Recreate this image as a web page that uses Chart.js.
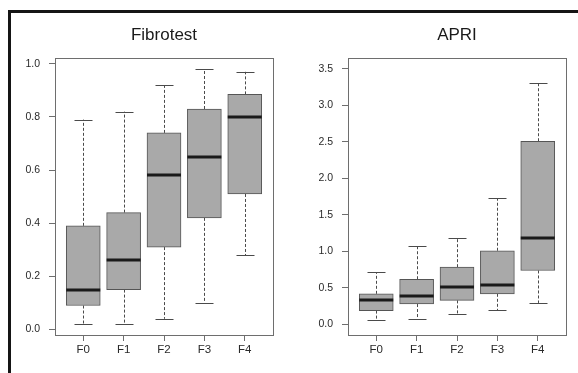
<!DOCTYPE html>
<html>
<head>
<meta charset="utf-8">
<script src="https://cdn.jsdelivr.net/npm/chart.js@4.4.1/dist/chart.umd.min.js"></script>
<style>
  html, body { margin: 0; padding: 0; background: #fff; }
  #wrap { position: relative; width: 578px; height: 373px; overflow: hidden; }
  #frame { position: absolute; left: 8px; top: 10px; width: 580px; height: 380px;
           border-left: 3px solid #151515; border-top: 3px solid #151515; }
  canvas { position: absolute; top: 0; }
  #fibro { left: 0; }
  #apri { left: 289px; }
</style>
</head>
<body>
<div id="wrap">
  <div id="frame"></div>
  <canvas id="fibro" width="289" height="373"></canvas>
  <canvas id="apri" width="289" height="373"></canvas>
</div>
<script>
// stages on the x axis
const categories = ['F0', 'F1', 'F2', 'F3', 'F4'];

// Fibrotest box stats
const fibroLower  = [0.02, 0.02, 0.04, 0.10, 0.28];
const fibroQ1     = [0.09, 0.15, 0.31, 0.42, 0.51];
const fibroMedian = [0.15, 0.26, 0.58, 0.65, 0.80];
const fibroQ3     = [0.39, 0.44, 0.74, 0.83, 0.885];
const fibroUpper  = [0.79, 0.82, 0.92, 0.98, 0.97];
const fibroTicks  = [0.0, 0.2, 0.4, 0.6, 0.8, 1.0];

// APRI box stats
const apriLower  = [0.06, 0.08, 0.145, 0.195, 0.295];
const apriQ1     = [0.19, 0.28, 0.33, 0.42, 0.74];
const apriMedian = [0.33, 0.385, 0.52, 0.545, 1.185];
const apriQ3     = [0.42, 0.62, 0.785, 1.01, 2.51];
const apriUpper  = [0.715, 1.07, 1.19, 1.73, 3.31];
const apriTicks  = [0.0, 0.5, 1.0, 1.5, 2.0, 2.5, 3.0, 3.5];

const FONT = 'Liberation Sans, Arial, Helvetica, sans-serif';

// whiskers, caps, medians and the plot frame, all placed through the chart scales
function boxExtras(lower, median, upper, q1, q3) {
    return {
        id: 'boxExtras',
        beforeDatasetsDraw(chart) {
            const ctx = chart.ctx;
            const xs = chart.scales.x, ys = chart.scales.y;
            ctx.save();
            ctx.strokeStyle = '#4a4a4a';
            ctx.lineWidth = 1;
            categories.forEach((c, i) => {
                const x = Math.round(xs.getPixelForValue(i + 1)) + 0.5;
                const yLo = ys.getPixelForValue(lower[i]);
                const yHi = ys.getPixelForValue(upper[i]);
                ctx.setLineDash([3, 2]);
                ctx.beginPath();
                ctx.moveTo(x, ys.getPixelForValue(q3[i]));
                ctx.lineTo(x, yHi);
                ctx.moveTo(x, ys.getPixelForValue(q1[i]));
                ctx.lineTo(x, yLo);
                ctx.stroke();
                ctx.setLineDash([]);
                ctx.beginPath();
                [yLo, yHi].forEach(y => {
                    const yy = Math.round(y) + 0.5;
                    ctx.moveTo(x - 9, yy);
                    ctx.lineTo(x + 9, yy);
                });
                ctx.stroke();
            });
            ctx.restore();
        },
        afterDatasetsDraw(chart) {
            const ctx = chart.ctx;
            const ys = chart.scales.y;
            const meta = chart.getDatasetMeta(0);
            ctx.save();
            ctx.strokeStyle = '#1a1a1a';
            ctx.lineWidth = 3;
            meta.data.forEach((bar, i) => {
                const half = bar.width / 2;
                const y = Math.round(ys.getPixelForValue(median[i]));
                ctx.beginPath();
                ctx.moveTo(bar.x - half, y);
                ctx.lineTo(bar.x + half, y);
                ctx.stroke();
            });
            const a = chart.chartArea;
            ctx.strokeStyle = '#6e6e6e';
            ctx.lineWidth = 1;
            ctx.strokeRect(Math.round(a.left) + 0.5, Math.round(a.top) + 0.5,
                           Math.round(a.right - a.left), Math.round(a.bottom - a.top));
            ctx.restore();
        }
    };
}

function makeChart(id, title, q1, q3, lower, median, upper, ticks, yMin, yMax, axisWidth, padRight) {
    const boxes = categories.map((c, i) => ({ x: i + 1, y: [q1[i], q3[i]] }));
    return new Chart(document.getElementById(id), {
        type: 'bar',
        data: {
            datasets: [{
                data: boxes,
                backgroundColor: '#a9a9a9',
                borderColor: '#555555',
                borderWidth: 1,
                borderSkipped: false,
                barThickness: 34
            }]
        },
        options: {
            responsive: false,
            animation: false,
            events: [],
            layout: { padding: { left: 0, right: padRight, top: 0, bottom: 0 } },
            plugins: {
                legend: { display: false },
                tooltip: { enabled: false },
                title: {
                    display: true,
                    text: title,
                    fullSize: false,
                    color: '#1a1a1a',
                    font: { family: FONT, size: 17, weight: 'normal', lineHeight: 1.2 },
                    padding: { top: 25, bottom: 12.6 }
                }
            },
            scales: {
                x: {
                    type: 'linear',
                    min: 0.3,
                    max: 5.7,
                    offset: false,
                    afterBuildTicks: s => { s.ticks = categories.map((c, i) => ({ value: i + 1 })); },
                    afterFit: s => { s.height = 38; },
                    grid: { offset: false, drawOnChartArea: false, drawTicks: true, tickLength: 6, color: '#6e6e6e' },
                    border: { display: false },
                    ticks: {
                        padding: 2,
                        autoSkip: false,
                        maxRotation: 0,
                        color: '#2a2a2a',
                        font: { family: FONT, size: 11.5 },
                        callback: v => categories[v - 1]
                    }
                },
                y: {
                    min: yMin,
                    max: yMax,
                    afterBuildTicks: s => { s.ticks = ticks.map(v => ({ value: v })); },
                    afterFit: s => { s.width = axisWidth; },
                    grid: { drawOnChartArea: false, drawTicks: true, tickLength: 6, color: '#6e6e6e' },
                    border: { display: false },
                    ticks: {
                        padding: 9,
                        color: '#2a2a2a',
                        font: { family: FONT, size: 10.5 },
                        callback: v => v.toFixed(1)
                    }
                }
            }
        },
        plugins: [boxExtras(lower, median, upper, q1, q3)]
    });
}

makeChart('fibro', 'Fibrotest', fibroQ1, fibroQ3, fibroLower, fibroMedian, fibroUpper,
          fibroTicks, -0.021, 1.022, 55, 16);
makeChart('apri', 'APRI', apriQ1, apriQ3, apriLower, apriMedian, apriUpper,
          apriTicks, -0.144, 3.65, 59, 12);
</script>
</body>
</html>
